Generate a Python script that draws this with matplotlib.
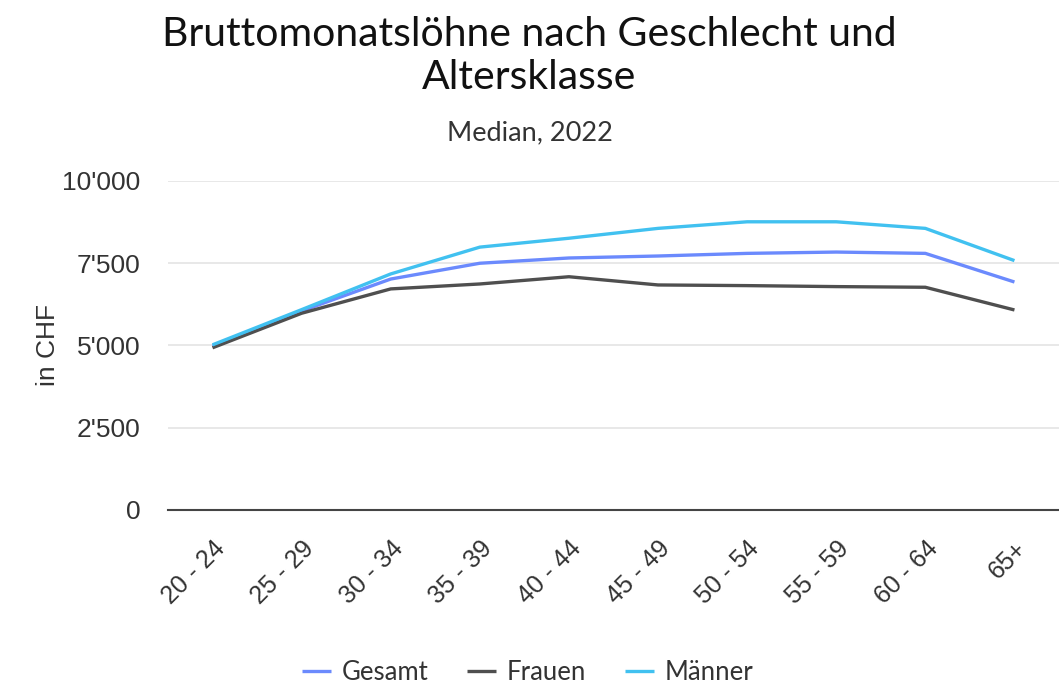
import matplotlib
matplotlib.use("Agg")
import matplotlib.pyplot as plt
from matplotlib.ticker import FuncFormatter

altersklassen = ["20 - 24", "25 - 29", "30 - 34", "35 - 39", "40 - 44",
                 "45 - 49", "50 - 54", "55 - 59", "60 - 64", "65+"]
gesamt = [4980, 6050, 7020, 7500, 7660, 7720, 7800, 7840, 7800, 6930]
frauen = [4930, 5980, 6720, 6870, 7090, 6840, 6820, 6790, 6770, 6080]
maenner = [5020, 6090, 7175, 7990, 8260, 8560, 8760, 8760, 8560, 7580]

farben = {"Gesamt": "#6b8afd", "Frauen": "#4f4f4f", "Männer": "#41c1f0"}
txt = "#333333"

fig = plt.figure(figsize=(10.59, 6.83), dpi=100)
ax = fig.add_axes([0.1586, 0.2533, 0.8414, 0.4817])

x = list(range(len(altersklassen)))
ax.plot(x, gesamt, color=farben["Gesamt"], lw=2.4, label="Gesamt", solid_capstyle="butt")
ax.plot(x, frauen, color=farben["Frauen"], lw=2.4, label="Frauen", solid_capstyle="butt")
ax.plot(x, maenner, color=farben["Männer"], lw=2.4, label="Männer", solid_capstyle="butt")

ax.set_xlim(-0.5, len(altersklassen) - 0.5)
ax.set_ylim(0, 10000)
ax.set_yticks([0, 2500, 5000, 7500, 10000])
ax.yaxis.set_major_formatter(FuncFormatter(lambda v, p: f"{int(v):,}".replace(",", "'")))
ax.grid(axis="y", color="#e4e4e4", lw=1.2)
ax.set_axisbelow(True)
for s in ["top", "right", "left"]:
    ax.spines[s].set_visible(False)
ax.spines["bottom"].set_color("#444444")
ax.spines["bottom"].set_linewidth(1.5)

ax.tick_params(axis="y", length=0, pad=20, labelsize=19, labelcolor=txt)
ax.tick_params(axis="x", length=0, pad=19, labelsize=18, labelcolor=txt)
for t in ax.get_yticklabels():
    t.set_fontfamily("Liberation Sans")
ax.set_xticks(x)
ax.set_xticklabels(altersklassen, rotation=45, ha="right", rotation_mode="anchor",
                   family="Liberation Sans")

fig.text(48 / 1059, 1 - 345 / 683, "in CHF", rotation=90, ha="center", va="center",
         fontsize=19, color=txt, family="Liberation Sans")

fig.text(0.5, 0.918, "Bruttomonatslöhne nach Geschlecht und\nAltersklasse", ha="center",
         va="center", fontsize=29.5, family="Lato", color="#111111", linespacing=1.22)
fig.text(0.5, 0.805, "Median, 2022", ha="center", va="center", fontsize=19.5,
         family="Lato", color=txt)

leg = fig.legend(loc="center", bbox_to_anchor=(0.498, 0.016), ncol=3, frameon=False,
                 prop={"family": "Lato", "size": 18.5}, handlelength=1.15,
                 handletextpad=0.4, columnspacing=1.5)
for t in leg.get_texts():
    t.set_color(txt)

fig.savefig("out.png", dpi=100)
